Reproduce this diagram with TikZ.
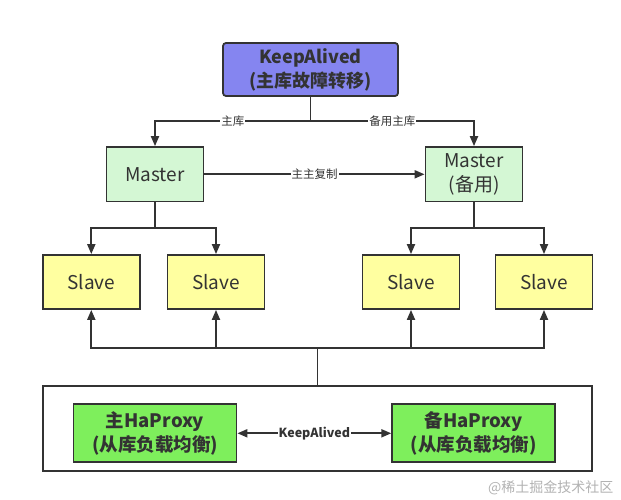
\documentclass[tikz,border=0pt]{standalone}
\usepackage{fontspec}
\setmainfont{Noto Sans CJK SC}
\usetikzlibrary{arrows.meta,positioning}
\definecolor{edge}{HTML}{333333}
\definecolor{kafill}{HTML}{8585F0}
\definecolor{mfill}{HTML}{D4F7D4}
\definecolor{sfill}{HTML}{FFFFA0}
\definecolor{hfill}{HTML}{7EEF5C}
\tikzset{
  box/.style={draw=edge, line width=1.8pt, inner sep=0pt, align=center, text=edge, font=\fontsize{19}{24}\selectfont},
  kabox/.style={box, fill=kafill, rounded corners=3pt, minimum width=175pt, minimum height=53pt, font=\bfseries\fontsize{18}{24}\selectfont},
  mbox/.style={box, fill=mfill, minimum width=97pt, minimum height=54.5pt},
  sbox/.style={box, fill=sfill, minimum width=97pt, minimum height=54pt},
  hbox/.style={box, fill=hfill, minimum width=163pt, minimum height=58pt, font=\bfseries\fontsize{18.5}{24}\selectfont},
  wire/.style={draw=edge, line width=1.9pt},
  arr/.style={wire, -{Triangle[length=10pt,width=8pt]}},
  darr/.style={wire, {Triangle[length=10pt,width=8pt]}-{Triangle[length=10pt,width=8pt]}},
  lbl/.style={fill=white, inner sep=1pt, text=edge, font=\fontsize{11.5}{13}\selectfont},
}
\begin{document}
\begin{tikzpicture}[x=1pt,y=-1pt]
\useasboundingbox (0,0) rectangle (621,500);
\node[kabox] (ka) at (310.5,69.5) {KeepAlived\\(主库故障转移)};
\node[mbox] (m1) at (155,174.3) {Master};
\node[mbox] (m2) at (474,174.3) {Master\\(备用)};
\node[sbox] (s1) at (91.3,282) {Slave};
\node[sbox] (s2) at (216,282) {Slave};
\node[sbox] (s3) at (411,282) {Slave};
\node[sbox] (s4) at (544,282) {Slave};
\node[draw=edge, line width=1.8pt, minimum width=549.5pt, minimum height=85pt, inner sep=0pt] (outer) at (317.5,428.2) {};
\node[hbox] (h1) at (155,433.3) {主HaProxy\\(从库负载均衡)};
\node[hbox] (h2) at (473.7,433.3) {备HaProxy\\(从库负载均衡)};
\node[text=black!30, anchor=east, font=\fontsize{14}{16}\selectfont] (wm) at (617,488) {@稀土掘金技术社区};

\coordinate (j1) at (310.5,121);
\coordinate (j2) at (155,228.3);
\coordinate (j3) at (474,228.3);
\coordinate (j4) at (317.5,347.7);

\draw[wire] (ka.south) -- (j1);
\draw[arr] (j1) -| node[lbl,pos=0.25]{主库} (m1.north);
\draw[arr] (j1) -| node[lbl,pos=0.25]{备用主库} (m2.north);
\draw[arr] (m1.east) -- node[lbl]{主主复制} (m2.west);

\draw[wire] (m1.south) -- (j2);
\draw[arr] (j2) -| (s1.north);
\draw[arr] (j2) -| (s2.north);
\draw[wire] (m2.south) -- (j3);
\draw[arr] (j3) -| (s3.north);
\draw[arr] (j3) -| (s4.north);

\draw[wire] (outer.north) -- (j4);
\draw[arr] (j4) -| (s1.south);
\draw[arr] (j4) -| (s2.south);
\draw[arr] (j4) -| (s3.south);
\draw[arr] (j4) -| (s4.south);

\draw[darr] (h1.east) -- node[lbl, font=\bfseries\fontsize{12.5}{14}\selectfont]{KeepAlived} (h2.west);
\end{tikzpicture}
\end{document}
